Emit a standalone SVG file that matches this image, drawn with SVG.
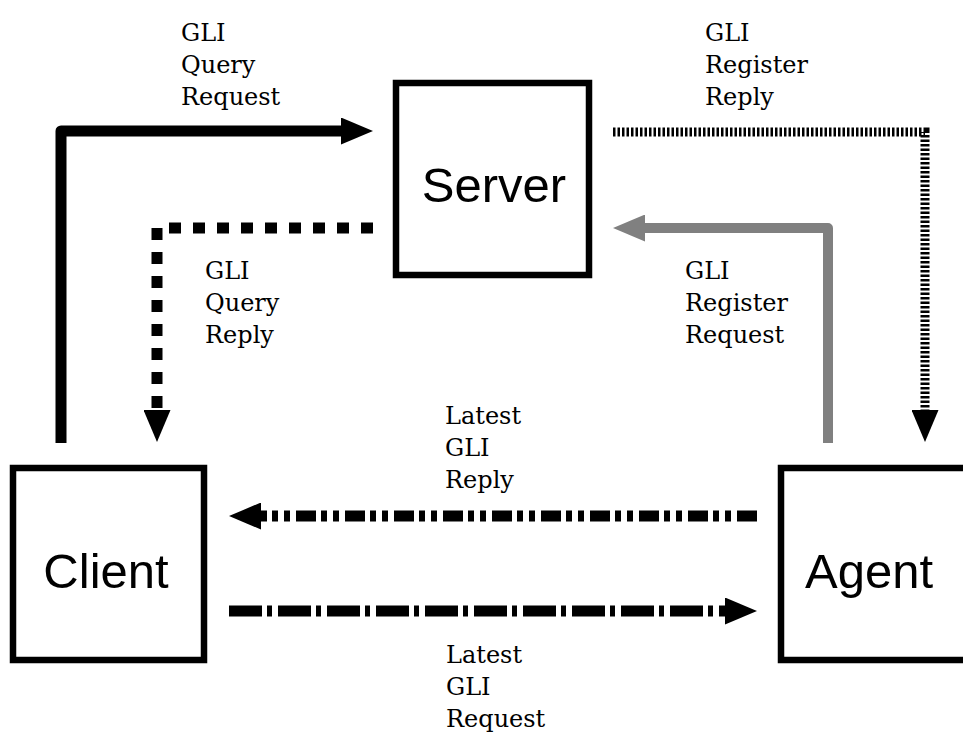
<svg xmlns="http://www.w3.org/2000/svg" width="963" height="738" viewBox="0 0 963 738">
<style>
.box{fill:#fff;stroke:#000;stroke-width:6.5}
.nlabel{font-family:"Liberation Sans",Arial,sans-serif;font-size:49px;fill:#000}
.elabel{font-family:"DejaVu Serif","Liberation Serif",serif;font-size:24px;fill:#000}
.conn{fill:none;stroke:#000;stroke-width:11}
.gray{stroke:#808080;stroke-width:10}
</style>
<defs>
<marker id="ah" markerUnits="userSpaceOnUse" viewBox="0 0 32 27" markerWidth="32" markerHeight="27" refX="0" refY="13.5" orient="auto">
<path d="M0,0 L32,13.5 L0,27 z" fill="#000"/>
</marker>
<marker id="ahg" markerUnits="userSpaceOnUse" viewBox="0 0 32 27" markerWidth="32" markerHeight="27" refX="0" refY="13.5" orient="auto">
<path d="M0,0 L32,13.5 L0,27 z" fill="#808080"/>
</marker>
</defs>
<rect width="963" height="738" fill="#fff"/>
<g id="connectors">
<path id="query-request" class="conn" d="M61 443 L61 131 L341 131" stroke-linejoin="round" marker-end="url(#ah)"/>
<path id="query-reply" class="conn" d="M373 228 L157 228 L157 410" stroke-dasharray="12 12" marker-end="url(#ah)"/>
<path id="register-reply" class="conn" d="M613 132 L925 132 L925 410" style="stroke-width:9" stroke-dasharray="2.5 2" marker-end="url(#ah)"/>
<path id="register-request" class="conn gray" d="M828 443 L828 228 L645 228" stroke-linejoin="round" marker-end="url(#ahg)"/>
<path id="latest-reply" class="conn" d="M757 516 L261 516" stroke-dasharray="20 6 6 6 6 5" marker-end="url(#ah)"/>
<path id="latest-request" class="conn" d="M229 611 L725 611" stroke-dasharray="33 5 5 6" marker-end="url(#ah)"/>
</g>
<g id="server">
<rect class="box" x="396" y="83" width="193" height="192"/>
<text class="nlabel" x="494" y="202" text-anchor="middle">Server</text>
</g>
<g id="client">
<rect class="box" x="13" y="468" width="191" height="192"/>
<text class="nlabel" x="106" y="588" text-anchor="middle">Client</text>
</g>
<g id="agent">
<rect class="box" x="781" y="468" width="200" height="192"/>
<text class="nlabel" x="805" y="588">Agent</text>
</g>
<g id="labels">
<text class="elabel" x="181"><tspan x="181" y="41">GLI</tspan><tspan x="181" y="73">Query</tspan><tspan x="181" y="105">Request</tspan></text>
<text class="elabel" x="705"><tspan x="705" y="41">GLI</tspan><tspan x="705" y="73">Register</tspan><tspan x="705" y="105">Reply</tspan></text>
<text class="elabel" x="205"><tspan x="205" y="279">GLI</tspan><tspan x="205" y="311">Query</tspan><tspan x="205" y="343">Reply</tspan></text>
<text class="elabel" x="685"><tspan x="685" y="279">GLI</tspan><tspan x="685" y="311">Register</tspan><tspan x="685" y="343">Request</tspan></text>
<text class="elabel" x="445"><tspan x="445" y="424">Latest</tspan><tspan x="445" y="456">GLI</tspan><tspan x="445" y="488">Reply</tspan></text>
<text class="elabel" x="446"><tspan x="446" y="663">Latest</tspan><tspan x="446" y="695">GLI</tspan><tspan x="446" y="727">Request</tspan></text>
</g>
</svg>
